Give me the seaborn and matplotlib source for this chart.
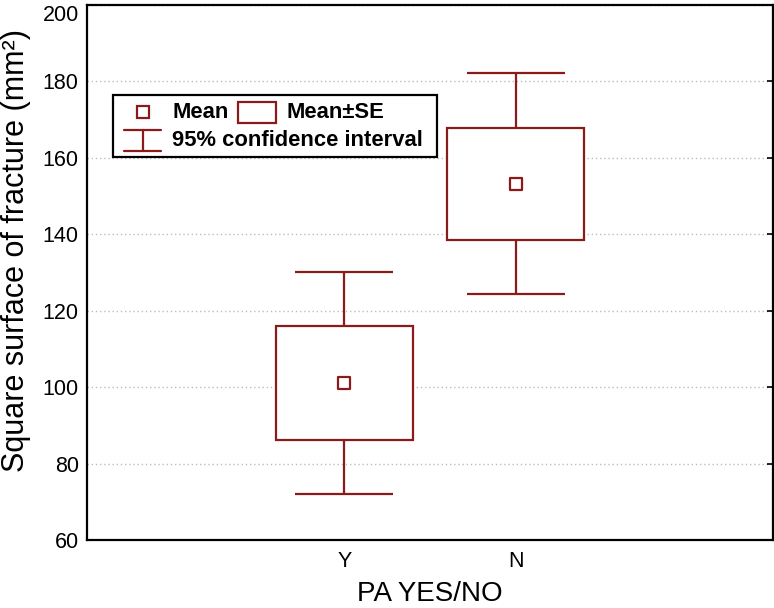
import matplotlib
matplotlib.use("Agg")
import matplotlib.pyplot as plt
import seaborn as sns
import numpy as np
import pandas as pd
from matplotlib.patches import Rectangle
from matplotlib.lines import Line2D

# ---- data ----
categories = ["Y", "N"]
cat_pos = [1, 2]
means = [101.1, 153.1]
se_low = [86.1, 138.5]
se_high = [116.0, 167.8]
ci_low = [72.0, 124.3]
ci_high = [130.1, 182.2]
tick_positions = [0, 1, 2, 3]
tick_labels = ["", "Y", "N", ""]
y_ticks = [60, 80, 100, 120, 140, 160, 180, 200]

RED = "#8b1a1a"

sns.set_style("white")
plt.rcParams["font.family"] = ["Liberation Sans", "DejaVu Sans"]
plt.rcParams["text.color"] = "black"
plt.rcParams["axes.labelcolor"] = "black"
plt.rcParams["xtick.color"] = "black"
plt.rcParams["ytick.color"] = "black"

fig = plt.figure(figsize=(7.74, 6.08), dpi=100)
ax = fig.add_axes([87 / 774, (608 - 540) / 608, 686 / 774, 535 / 608])

df = pd.DataFrame({"x": cat_pos, "mean": means, "se_lo": se_low, "se_hi": se_high,
                   "ci_lo": ci_low, "ci_hi": ci_high, "cat": categories})

# CI whiskers
ax.errorbar(df["x"], df["mean"],
            yerr=[df["mean"] - df["ci_lo"], df["ci_hi"] - df["mean"]],
            fmt="none", ecolor=RED, elinewidth=1.6, capsize=35.5, capthick=1.6, zorder=2)
# SE boxes
ax.bar(df["x"], df["se_hi"] - df["se_lo"], bottom=df["se_lo"], width=0.8,
       facecolor="white", edgecolor=RED, linewidth=1.6, zorder=3)
# means
sns.scatterplot(data=df, x="x", y="mean", marker="s", s=80, facecolor="white",
                edgecolor=RED, linewidth=1.6, zorder=4, ax=ax, legend=False)

ax.set_xlim(-0.5, 3.5)
ax.set_ylim(60, 200)
ax.set_xticks(tick_positions)
ax.set_xticklabels(tick_labels, fontsize=15.5)
ax.set_yticks(y_ticks)
ax.set_yticklabels([str(v) for v in y_ticks], fontsize=15.5)
ax.tick_params(direction="in", length=4, width=1.2, top=False, right=True, pad=6, colors="black")
ax.tick_params(axis="x", pad=8)
# keep the top tick label inside the figure, as in the reference
top_lbl = ax.get_yticklabels()[-1]
top_lbl.set_verticalalignment("top")

ax.yaxis.grid(True, color="#bdbdbd", linestyle=(0, (1, 2)), linewidth=1)
ax.xaxis.grid(False)
ax.set_axisbelow(True)
for sp in ax.spines.values():
    sp.set_visible(True)
    sp.set_color("black")
    sp.set_linewidth(1.6)

ax.set_xlabel("PA YES/NO", fontsize=20, va="center")
ax.set_ylabel("Square surface of fracture (mm²)", fontsize=22, va="center")
ax.xaxis.set_label_coords(0.5, (540 - 594) / 535)
ax.yaxis.set_label_coords((16 - 87) / 686, (540 - 250) / 535)

# ---- legend (drawn manually to match the two-row layout) ----
T = ax.transAxes
def fx(px):
    return (px - 87) / 686
def fy(py):
    return (540 - py) / 535

ax.add_patch(Rectangle((fx(113), fy(157)), fx(437) - fx(113), fy(95) - fy(157),
                       transform=T, facecolor="white", edgecolor="black", linewidth=1.6, zorder=5))
ax.add_line(Line2D([fx(143)], [fy(112)], marker="s", markersize=8, markerfacecolor="white",
                   markeredgecolor=RED, markeredgewidth=1.6, transform=T, zorder=6))
ax.text(fx(172), fy(112), "Mean", transform=T, fontsize=15.8, fontweight="bold",
        va="center", ha="left", zorder=6)
ax.add_patch(Rectangle((fx(238), fy(123)), fx(276) - fx(238), fy(102) - fy(123),
                       transform=T, facecolor="white", edgecolor=RED, linewidth=1.6, zorder=6))
ax.text(fx(287), fy(112), "Mean±SE", transform=T, fontsize=15.8, fontweight="bold",
        va="center", ha="left", zorder=6)
ax.add_line(Line2D([fx(124), fx(161)], [fy(130), fy(130)], color=RED, lw=1.6, transform=T, zorder=6))
ax.add_line(Line2D([fx(124), fx(161)], [fy(151), fy(151)], color=RED, lw=1.6, transform=T, zorder=6))
ax.add_line(Line2D([fx(142.5), fx(142.5)], [fy(130), fy(151)], color=RED, lw=1.6, transform=T, zorder=6))
ax.text(fx(172), fy(141), "95% confidence interval", transform=T, fontsize=15.8, fontweight="bold",
        va="center", ha="left", zorder=6)

fig.savefig("out.png", dpi=100)
